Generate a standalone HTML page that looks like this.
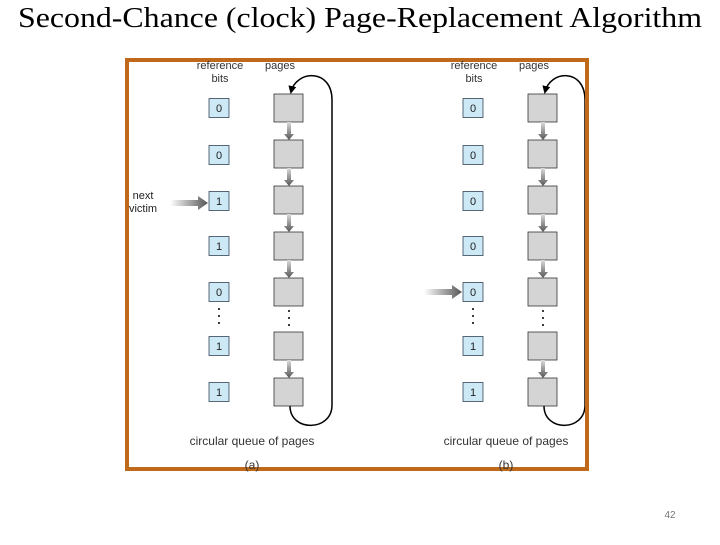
<!DOCTYPE html>
<html><head><meta charset="utf-8"><style>
body{margin:0;width:720px;height:540px;background:#fff;overflow:hidden}
</style></head><body>
<svg width="720" height="540" xmlns="http://www.w3.org/2000/svg" font-family="Liberation Sans, sans-serif">
<defs>
<linearGradient id="g" x1="0" x2="1"><stop offset="0" stop-color="#fff"/><stop offset="1" stop-color="#555"/></linearGradient>
<linearGradient id="gv" x1="0" y1="0" x2="0" y2="1"><stop offset="0" stop-color="#ddd"/><stop offset="1" stop-color="#555"/></linearGradient>
<marker id="ah" markerWidth="8" markerHeight="8" refX="6" refY="4" orient="auto" markerUnits="userSpaceOnUse"><path d="M0,0 L8,4 L0,8 Z" fill="#000"/></marker>
</defs>
<text x="18" y="27" font-family="Liberation Serif, serif" font-size="29" textLength="684" lengthAdjust="spacingAndGlyphs" fill="#000">Second-Chance (clock) Page-Replacement Algorithm</text>
<rect x="127" y="60" width="460" height="409" fill="#fff" stroke="#c0691a" stroke-width="4"/>
<g id="p">
<text x="220" y="69" font-size="11" text-anchor="middle" fill="#333">reference</text>
<text x="220" y="82" font-size="11" text-anchor="middle" fill="#333">bits</text>
<text x="280" y="69" font-size="11" text-anchor="middle" fill="#333">pages</text>
<g fill="#cde9f6" stroke="#345" stroke-width="0.8">
<rect x="209" y="98.5" width="20" height="19"/><rect x="209" y="145.5" width="20" height="19"/><rect x="209" y="191.5" width="20" height="19"/><rect x="209" y="236.5" width="20" height="19"/><rect x="209" y="282.5" width="20" height="19"/><rect x="209" y="336.5" width="20" height="19"/><rect x="209" y="382.5" width="20" height="19"/>
</g>
<g fill="#d4d4d4" stroke="#333" stroke-width="0.8">
<rect x="274" y="94" width="29" height="28"/><rect x="274" y="140" width="29" height="28"/><rect x="274" y="186" width="29" height="28"/><rect x="274" y="232" width="29" height="28"/><rect x="274" y="278" width="29" height="28"/><rect x="274" y="332" width="29" height="28"/><rect x="274" y="378" width="29" height="28"/>
</g>
<g fill="url(#gv)">
<path d="M287,122h4v12h3l-5,6l-5,-6h3z"/><path d="M287,168h4v12h3l-5,6l-5,-6h3z"/><path d="M287,214h4v12h3l-5,6l-5,-6h3z"/><path d="M287,260h4v12h3l-5,6l-5,-6h3z"/><path d="M287,360h4v12h3l-5,6l-5,-6h3z"/>
</g>
<g font-size="11" text-anchor="middle" fill="#222">
<text x="219" y="112">0</text><text x="219" y="159">0</text><text x="219" y="296">0</text><text x="219" y="350">1</text><text x="219" y="396">1</text>
</g>
<g fill="#000"><circle cx="219" cy="309" r="1"/><circle cx="219" cy="316" r="1"/><circle cx="219" cy="323" r="1"/><circle cx="289" cy="311" r="1"/><circle cx="289" cy="318" r="1"/><circle cx="289" cy="325" r="1"/></g>
<text x="252" y="445" font-size="12" text-anchor="middle" fill="#333">circular queue of pages</text>
</g>
<text x="219" y="205" font-size="11" text-anchor="middle" fill="#222">1</text>
<text x="219" y="250" font-size="11" text-anchor="middle" fill="#222">1</text>
<text x="252" y="469" font-size="12" text-anchor="middle" fill="#333">(a)</text>
<path d="M290,406 C290,432 332,432 332,405 L332,100 C332,68 296,70 291,92" fill="none" stroke="#000" stroke-width="1.5" marker-end="url(#ah)"/>
<path d="M170,200h28v-4l10,7l-10,7v-4h-28z" fill="url(#g)"/>
<text x="143" y="199" font-size="11" text-anchor="middle" fill="#222">next</text>
<text x="143" y="212" font-size="11" text-anchor="middle" fill="#222">victim</text>
<use href="#p" x="254"/>
<text x="473" y="205" font-size="11" text-anchor="middle" fill="#222">0</text>
<text x="473" y="250" font-size="11" text-anchor="middle" fill="#222">0</text>
<text x="506" y="469" font-size="12" text-anchor="middle" fill="#333">(b)</text>
<path d="M544,406 C544,432 585,432 585,405 L585,100 C585,68 550,70 545,92" fill="none" stroke="#000" stroke-width="1.5" marker-end="url(#ah)"/>
<path d="M424,289h28v-4l10,7l-10,7v-4h-28z" fill="url(#g)"/>
<rect x="585" y="60" width="4" height="411" fill="#c0691a"/>
<text x="670" y="518" font-size="10" text-anchor="middle" fill="#777">42</text>
</svg>
</body></html>
